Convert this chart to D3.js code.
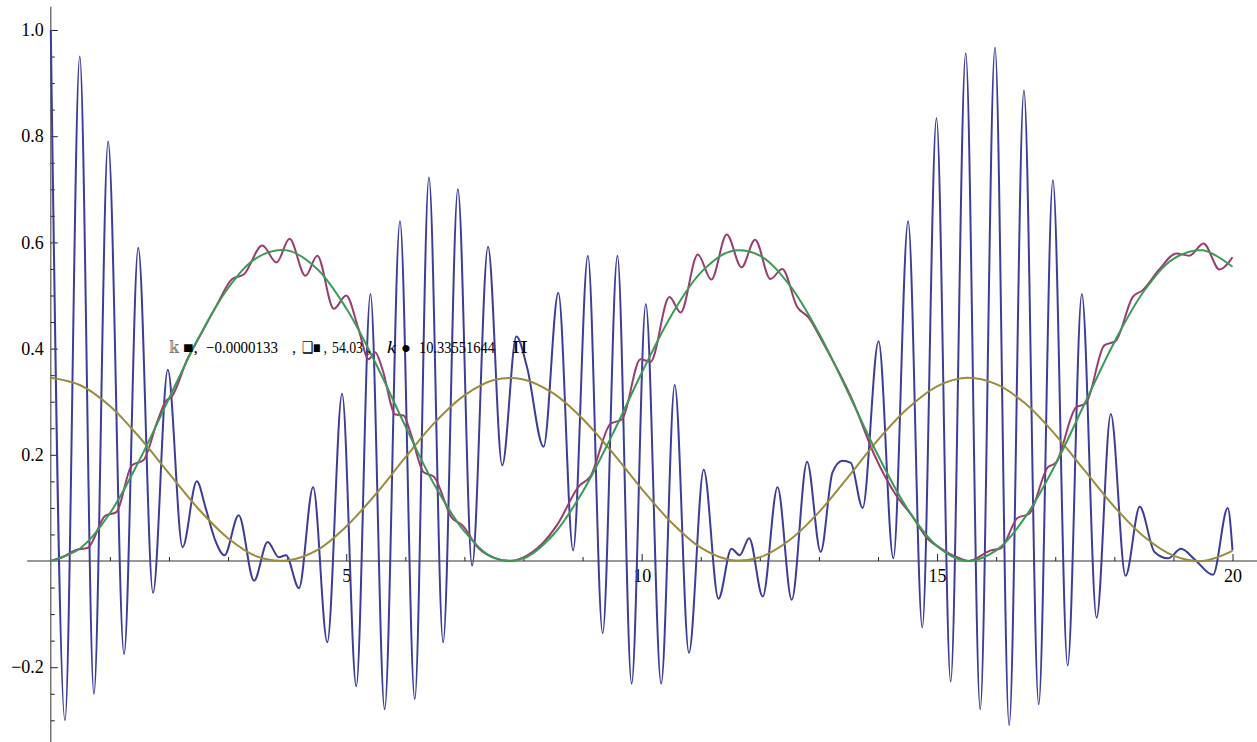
<!DOCTYPE html>
<html>
<head>
<meta charset="utf-8">
<script src="https://cdn.jsdelivr.net/npm/d3@7"></script>
<style>
  html, body { margin: 0; padding: 0; background: #fff; }
  svg { display: block; }
</style>
</head>
<body>
<div id="chart"></div>
<script>
// values
const gridX = [0, 0.5, 1, 1.5, 2, 2.5, 3, 3.5, 4, 4.5, 5, 5.5, 6, 6.5, 7, 7.5, 8, 8.5, 9, 9.5,
  10, 10.5, 11, 11.5, 12, 12.5, 13, 13.5, 14, 14.5, 15, 15.5, 16, 16.5, 17, 17.5, 18, 18.5, 19, 19.5, 20];

const goldValues = [0.345, 0.331, 0.292, 0.233, 0.165, 0.098, 0.043, 0.008, 0.001, 0.020, 0.065, 0.126,
  0.195, 0.261, 0.312, 0.341, 0.342, 0.316, 0.268, 0.205, 0.136, 0.073, 0.025, 0.002, 0.007, 0.039,
  0.092, 0.159, 0.228, 0.287, 0.329, 0.345, 0.333, 0.296, 0.238, 0.170, 0.102, 0.046, 0.010, 0.000, 0.019];

const greenValues = [0, 0.024, 0.090, 0.190, 0.306, 0.420, 0.514, 0.572, 0.585, 0.551, 0.476, 0.372,
  0.254, 0.142, 0.056, 0.006, 0.005, 0.049, 0.130, 0.237, 0.354, 0.462, 0.543, 0.583, 0.575, 0.520,
  0.429, 0.316, 0.199, 0.098, 0.028, 0.000, 0.020, 0.084, 0.181, 0.297, 0.412, 0.508, 0.569, 0.585, 0.554];

// turning points of the fast oscillating curve
const bluePoints = [
  [0.00, 1.00], [0.24, -0.30], [0.49, 0.95], [0.73, -0.25], [0.97, 0.79], [1.24, -0.175],
  [1.48, 0.59], [1.73, -0.06], [1.98, 0.36], [2.23, 0.026], [2.47, 0.15], [2.62, 0.10],
  [2.78, 0.04], [2.94, 0.011], [3.18, 0.086], [3.44, -0.037], [3.67, 0.036], [3.86, 0.007],
  [3.98, 0.011], [4.20, -0.051], [4.44, 0.139], [4.68, -0.153], [4.93, 0.315], [5.17, -0.236],
  [5.41, 0.503], [5.65, -0.279], [5.91, 0.64], [6.16, -0.26], [6.40, 0.722], [6.64, -0.153],
  [6.89, 0.70], [7.13, -0.009], [7.40, 0.592], [7.64, 0.18], [7.88, 0.423], [8.06, 0.365],
  [8.34, 0.215], [8.59, 0.505], [8.84, 0.02], [9.09, 0.575], [9.34, -0.136], [9.59, 0.575],
  [9.83, -0.231], [10.07, 0.484], [10.33, -0.231], [10.56, 0.332], [10.80, -0.173], [11.05, 0.172],
  [11.30, -0.071], [11.52, 0.023], [11.66, 0.011], [11.82, 0.043], [12.05, -0.067], [12.30, 0.139],
  [12.54, -0.073], [12.80, 0.187], [13.03, 0.017], [13.23, 0.167], [13.40, 0.189], [13.54, 0.185],
  [13.74, 0.10], [14.01, 0.414], [14.26, 0.005], [14.51, 0.64], [14.75, -0.125], [14.99, 0.834],
  [15.23, -0.227], [15.485, 0.956], [15.73, -0.279], [15.98, 0.967], [16.22, -0.309], [16.47, 0.886],
  [16.72, -0.27], [16.96, 0.717], [17.21, -0.197], [17.45, 0.503], [17.70, -0.107], [17.94, 0.277],
  [18.19, -0.028], [18.43, 0.102], [18.68, 0.017], [18.91, 0.005], [19.13, 0.023], [19.36, 0.003],
  [19.67, -0.026], [19.92, 0.10], [20.00, 0.02]
];

const magentaPoints = [
  [0.00, 0.000], [0.21, 0.008], [0.41, 0.020], [0.63, 0.025], [0.92, 0.085], [1.11, 0.092],
  [1.37, 0.180], [1.57, 0.190], [1.80, 0.262], [1.94, 0.300], [2.05, 0.310], [2.31, 0.380],
  [2.53, 0.425], [2.80, 0.480], [3.07, 0.531], [3.27, 0.540], [3.58, 0.594], [3.82, 0.562],
  [4.04, 0.607], [4.31, 0.537], [4.51, 0.575], [4.79, 0.475], [5.00, 0.500], [5.20, 0.440],
  [5.38, 0.380], [5.49, 0.393], [5.61, 0.362], [5.83, 0.276], [5.97, 0.274], [6.09, 0.241],
  [6.31, 0.167], [6.48, 0.159], [6.79, 0.081], [6.96, 0.068], [7.24, 0.024], [7.53, 0.005],
  [7.77, 0.000], [8.00, 0.007], [8.32, 0.033], [8.57, 0.068], [8.94, 0.141], [9.13, 0.159],
  [9.47, 0.258], [9.67, 0.267], [9.98, 0.380], [10.15, 0.375], [10.47, 0.497], [10.66, 0.468],
  [10.95, 0.577], [11.18, 0.530], [11.44, 0.615], [11.69, 0.553], [11.92, 0.605], [12.18, 0.531],
  [12.38, 0.550], [12.63, 0.479], [12.83, 0.458], [13.05, 0.415], [13.59, 0.297], [13.93, 0.202],
  [14.33, 0.120], [14.55, 0.089], [14.84, 0.042], [15.06, 0.024], [15.34, 0.007], [15.54, 0.000],
  [15.91, 0.020], [16.08, 0.024], [16.36, 0.081], [16.56, 0.089], [16.87, 0.176], [17.01, 0.185],
  [17.35, 0.289], [17.52, 0.297], [17.83, 0.406], [18.02, 0.414], [18.31, 0.497], [18.48, 0.510],
  [18.76, 0.549], [19.05, 0.579], [19.27, 0.575], [19.51, 0.598], [19.78, 0.549], [20.00, 0.572]
];

const xMajorTicks = [5, 10, 15, 20];
const xTickLabels = ["5", "10", "15", "20"];
const yMajorTicks = [-0.2, 0.2, 0.4, 0.6, 0.8, 1.0];
const yTickLabels = ["\u22120.2", "0.2", "0.4", "0.6", "0.8", "1.0"];

const width = 1257, height = 742;
const serif = "'Liberation Serif', 'DejaVu Serif', serif";

const x = d3.scaleLinear().domain([0, 20]).range([50.8, 1232.5]);
const y = d3.scaleLinear().domain([0, 1]).range([561, 30]);

const svg = d3.select("#chart")
  .append("svg")
  .attr("width", width)
  .attr("height", height);

svg.append("rect").attr("width", width).attr("height", height).attr("fill", "#fff");

// axes lines
svg.append("line")
  .attr("x1", x(-0.4)).attr("x2", x(20.43))
  .attr("y1", y(0)).attr("y2", y(0))
  .attr("stroke", "#333").attr("stroke-width", 1.2);

svg.append("line")
  .attr("x1", x(0)).attr("x2", x(0))
  .attr("y1", y(1.044)).attr("y2", y(-0.343))
  .attr("stroke", "#555").attr("stroke-width", 1.2);

// minor ticks
const xMinor = d3.range(1, 21).filter(d => d % 5 !== 0);
svg.append("g")
  .attr("transform", `translate(0,${y(0)})`)
  .call(d3.axisBottom(x).tickValues(xMinor).tickSize(-4).tickFormat(""))
  .call(g => g.select(".domain").remove());

const yMinor = d3.range(-6, 21).map(d => d * 0.05).filter(d => Math.abs(d) > 1e-9 && Math.round(d * 100) % 20 !== 0);
svg.append("g")
  .attr("transform", `translate(${x(0)},0)`)
  .call(d3.axisLeft(y).tickValues(yMinor).tickSize(-4).tickFormat(""))
  .call(g => g.select(".domain").remove());

// major ticks with labels
svg.append("g")
  .attr("transform", `translate(0,${y(0)})`)
  .call(d3.axisBottom(x).tickValues(xMajorTicks).tickSize(-7).tickPadding(8)
    .tickFormat((d, i) => xTickLabels[i]))
  .call(g => g.select(".domain").remove())
  .call(g => g.selectAll("text").style("font-size", "18px").style("font-family", serif).attr("fill", "#000"));

svg.append("g")
  .attr("transform", `translate(${x(0)},0)`)
  .call(d3.axisLeft(y).tickValues(yMajorTicks).tickSize(-7).tickPadding(7)
    .tickFormat((d, i) => yTickLabels[i]))
  .call(g => g.select(".domain").remove())
  .call(g => g.selectAll("text").style("font-size", "18px").style("font-family", serif).attr("fill", "#000"));

svg.selectAll(".tick line").attr("stroke", "#222");

// curves
const smooth = d3.line()
  .x(d => x(d[0]))
  .y(d => y(d[1]))
  .curve(d3.curveCatmullRom.alpha(0.5));

const turning = d3.line()
  .x(d => x(d[0]))
  .y(d => y(d[1]))
  .curve(d3.curveMonotoneX);

const goldPoints = gridX.map((v, i) => [v, goldValues[i]]);
const greenPoints = gridX.map((v, i) => [v, greenValues[i]]);

svg.append("path").datum(bluePoints)
  .attr("d", turning).attr("fill", "none")
  .attr("stroke", "#3d3d99").attr("stroke-width", 2);

svg.append("path").datum(magentaPoints)
  .attr("d", turning).attr("fill", "none")
  .attr("stroke", "#993d71").attr("stroke-width", 2);

svg.append("path").datum(goldPoints)
  .attr("d", smooth).attr("fill", "none")
  .attr("stroke", "#998c3d").attr("stroke-width", 2);

svg.append("path").datum(greenPoints)
  .attr("d", smooth).attr("fill", "none")
  .attr("stroke", "#3d9954").attr("stroke-width", 2);

// parameter label that sits inside the plot
const labelParts = [
  { t: "\uD835\uDD5C", x: 169, w: 10, c: "#777" },
  { t: "\u25A0,", x: 183, w: 15 },
  { t: "\u22120.0000133", x: 206, w: 72 },
  { t: ",", x: 292, w: 4 },
  { t: "\u2751\u25A0 ,", x: 302, w: 25 },
  { t: "54.03", x: 332, w: 31 },
  { t: ",", x: 367, w: 4 },
  { t: "k", x: 387, w: 9, italic: true },
  { t: "\u25CF", x: 401, w: 10 },
  { t: "10.33551644", x: 419, w: 76 },
  { t: "\u2160\u2160", x: 512, w: 16 }
];

svg.append("g")
  .selectAll("text")
  .data(labelParts)
  .enter()
  .append("text")
  .attr("x", d => d.x)
  .attr("y", 353)
  .style("font-family", serif)
  .style("font-size", "16px")
  .style("font-style", d => d.italic ? "italic" : null)
  .attr("fill", d => d.c || "#000")
  .attr("textLength", d => d.w)
  .attr("lengthAdjust", "spacingAndGlyphs")
  .text(d => d.t);
</script>
</body>
</html>
